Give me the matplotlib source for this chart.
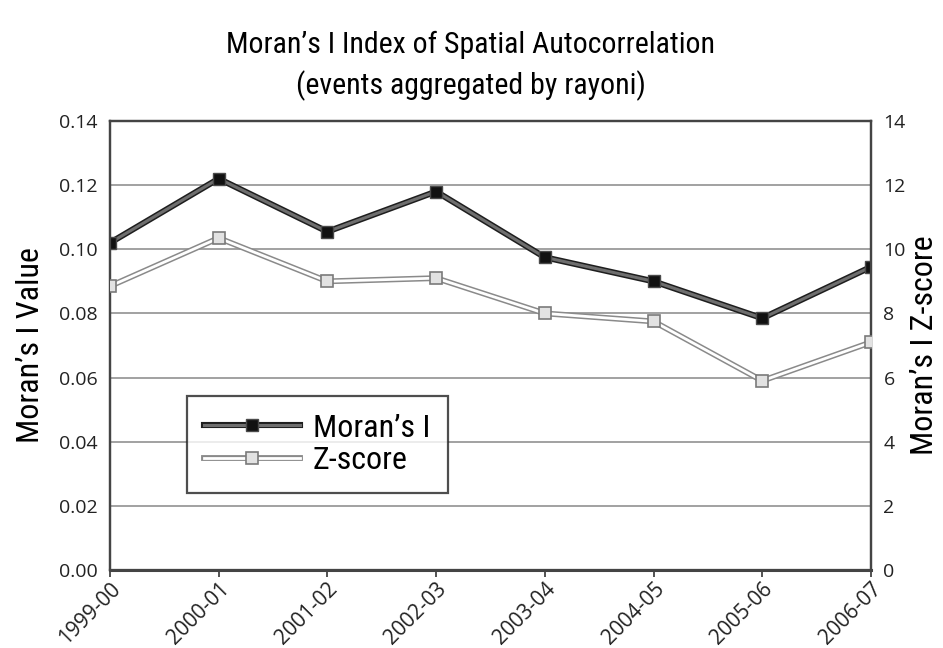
import matplotlib.pyplot as plt
from matplotlib.legend_handler import HandlerTuple

# Moran's I by school year, with its Z-score on the right axis
years = ['1999-00', '2000-01', '2001-02', '2002-03',
         '2003-04', '2004-05', '2005-06', '2006-07']
morans_i = [0.102, 0.122, 0.1055, 0.118, 0.0975, 0.090, 0.0785, 0.0945]
z_score = [8.85, 10.35, 9.0, 9.1, 8.0, 7.75, 5.9, 7.1]

left_ticks = [0.00, 0.02, 0.04, 0.06, 0.08, 0.10, 0.12, 0.14]
right_ticks = [0, 2, 4, 6, 8, 10, 12, 14]

label_font = ['Roboto Condensed', 'Liberation Sans Narrow', 'Roboto',
              'DejaVu Sans']
tick_font = ['Open Sans', 'DejaVu Sans']

fig = plt.figure(figsize=(9.43, 6.48), dpi=100)
ax = fig.add_axes([0.1166, 0.1204, 0.807, 0.6929])
ax2 = ax.twinx()

x = list(range(len(years)))

# Moran's I: grey line with dark outline
m_out, = ax.plot(x, morans_i, color='#1e1e1e', lw=4.4,
                 solid_joinstyle='miter', zorder=3)
m_in, = ax.plot(x, morans_i, color='#6e6e6e', lw=2.2, marker='s',
                markersize=8.5, markerfacecolor='#111111',
                markeredgecolor='#4a4a4a', markeredgewidth=1.0, zorder=4)

# Z-score: white line with grey outline
z_out, = ax2.plot(x, z_score, color='#8a8a8a', lw=4.2,
                  solid_joinstyle='miter', zorder=3)
z_in, = ax2.plot(x, z_score, color='white', lw=2.0, marker='s',
                 markersize=8.5, markerfacecolor='#e2e2e2',
                 markeredgecolor='#7a7a7a', markeredgewidth=1.2, zorder=4)

ax.set_xlim(0, len(years) - 1)
ax.set_ylim(0, 0.14)
ax2.set_ylim(0, 14)

ax.set_yticks(left_ticks)
ax.set_yticklabels([f'{v:.2f}' for v in left_ticks], family=tick_font,
                   fontsize=14, color='#222222')
ax2.set_yticks(right_ticks)
ax2.set_yticklabels([str(v) for v in right_ticks], family=tick_font,
                    fontsize=14, color='#222222')
ax.set_xticks(x)
ax.set_xticklabels(years, family=tick_font, fontsize=15, color='#222222',
                   rotation=45, ha='right', va='top',
                   rotation_mode='anchor')

ax.tick_params(axis='y', length=0, pad=9)
ax2.tick_params(axis='y', length=0, pad=9)
ax.tick_params(axis='x', length=5, width=1.3, color='#444444', pad=1)

for v in left_ticks[1:-1]:
    ax.axhline(v, color='#9a9a9a', lw=1.3, zorder=1)

for a in (ax, ax2):
    for s in a.spines.values():
        s.set_color('#444444')
        s.set_linewidth(1.6)
ax.spines['bottom'].set_linewidth(2.2)

ax.set_ylabel("Moran\u2019s I Value", family=label_font, fontsize=23,
              labelpad=10)
ax2.set_ylabel("Moran\u2019s I Z-score", family=label_font, fontsize=23,
               labelpad=3)

fig.text(0.499, 0.93, "Moran\u2019s I Index of Spatial Autocorrelation",
         family=label_font, fontsize=21.5, ha='center', va='center')
fig.text(0.499, 0.868, "(events aggregated by rayoni)",
         family=label_font, fontsize=21.5, ha='center', va='center')

leg = ax2.legend([(m_out, m_in), (z_out, z_in)], ["Moran\u2019s I", "Z-score"],
                 handler_map={tuple: HandlerTuple(ndivide=1, pad=0)},
                 loc='lower left', bbox_to_anchor=(0.101, 0.1715),
                 prop={'family': label_font, 'size': 23},
                 handlelength=3.0, handletextpad=0.4, labelspacing=0.12,
                 borderpad=0.55, borderaxespad=0, frameon=True, fancybox=False)
leg.get_frame().set_edgecolor('#222222')
leg.get_frame().set_linewidth(1.6)

fig.savefig('out.png', dpi=100)
